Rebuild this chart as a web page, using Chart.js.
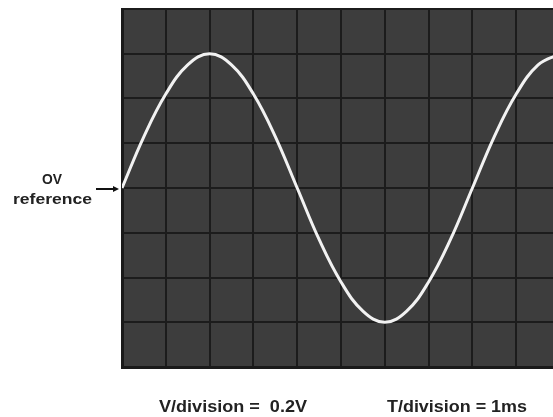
<!DOCTYPE html>
<html>
<head>
<meta charset="utf-8">
<style>
  html, body { margin: 0; padding: 0; background: #ffffff; }
  #wrap { width: 553px; height: 417px; position: relative; }
</style>
</head>
<body>
<div id="wrap"><canvas id="scope"></canvas></div>
<script src="https://cdn.jsdelivr.net/npm/chart.js"></script>
<script>
    // time in ms (1 division = 1 ms), voltage in V (1 division = 0.2 V)
    var timeMs = [0, 0.5, 1, 1.5, 2, 2.5, 3, 3.5, 4, 4.5, 5, 5.5, 6, 6.5, 7, 7.5, 8, 8.5, 9, 9.5, 10];
    var volts = [0.00, 0.23, 0.42, 0.55, 0.60, 0.55, 0.42, 0.23, 0.00, -0.23, -0.42,
                 -0.55, -0.60, -0.55, -0.42, -0.23, 0.00, 0.23, 0.42, 0.55, 0.60];

    var timeRange = [0, 9.84];
    var voltRange = [-0.8, 0.8];
    var zeroLabel = ['OV', 'reference'];
    var voltNote = 'V/division =  0.2V';
    var timeNote = 'T/division = 1ms';

    var points = timeMs.map(function (t, i) { return { x: t, y: volts[i] }; });

    var textColor = '#222222';

    // draw text squeezed/stretched to a given width
    function fitText(ctx, text, x, y, width, font) {
        ctx.save();
        ctx.font = font;
        var w = ctx.measureText(text).width;
        ctx.translate(x, y);
        ctx.scale(width / w, 1);
        ctx.textAlign = 'left';
        ctx.textBaseline = 'alphabetic';
        ctx.fillText(text, 0, 0);
        ctx.restore();
    }

    var screenPlugin = {
        id: 'screen',
        beforeDraw: function (chart) {
            var ctx = chart.ctx;
            var a = chart.chartArea;
            ctx.save();
            ctx.fillStyle = '#3d3d3d';
            ctx.fillRect(a.left, a.top, a.right - a.left, a.bottom - a.top);
            ctx.restore();
        },
        afterDraw: function (chart) {
            var ctx = chart.ctx;
            var a = chart.chartArea;
            var y0 = chart.scales.y.getPixelForValue(0);
            ctx.save();
            ctx.fillStyle = textColor;
            fitText(ctx, zeroLabel[0], 42, y0 - 4, 20, 'bold 14px "Liberation Sans", Arial, sans-serif');
            fitText(ctx, zeroLabel[1], 13, y0 + 16, 79, 'bold 14px "Liberation Sans", Arial, sans-serif');
            // arrow pointing at the 0V line
            ctx.strokeStyle = '#111';
            ctx.lineWidth = 2;
            ctx.beginPath();
            ctx.moveTo(96, y0 + 1);
            ctx.lineTo(a.left - 6, y0 + 1);
            ctx.stroke();
            ctx.fillStyle = '#111';
            ctx.beginPath();
            ctx.moveTo(a.left - 3, y0 + 1);
            ctx.lineTo(a.left - 9, y0 - 2);
            ctx.lineTo(a.left - 9, y0 + 4);
            ctx.closePath();
            ctx.fill();
            ctx.fillStyle = textColor;
            fitText(ctx, voltNote, 159, 412, 148, 'bold 16px "Liberation Sans", Arial, sans-serif');
            fitText(ctx, timeNote, 387, 412, 140, 'bold 16px "Liberation Sans", Arial, sans-serif');
            ctx.restore();
        }
    };

    var ctx = document.getElementById('scope').getContext('2d');
    var scopeChart = new Chart(ctx, {
        type: 'line',
        data: {
            datasets: [{
                label: 'Signal',
                data: points,
                borderColor: '#f2f2f2',
                borderWidth: 3,
                pointRadius: 0,
                tension: 0.4,
                fill: false
            }]
        },
        options: {
            responsive: true,
            maintainAspectRatio: false,
            animation: false,
            layout: {
                padding: { left: 122, top: 9, right: 0, bottom: 50 }
            },
            plugins: {
                legend: { display: false },
                tooltip: { enabled: false }
            },
            scales: {
                x: {
                    type: 'linear',
                    min: timeRange[0],
                    max: timeRange[1],
                    z: 1,
                    ticks: { display: false, stepSize: 1, includeBounds: false },
                    grid: { color: '#1c1c1c', lineWidth: 2, drawTicks: false },
                    border: { display: true, color: '#1a1a1a', width: 3 }
                },
                y: {
                    min: voltRange[0],
                    max: voltRange[1],
                    z: 1,
                    ticks: { display: false, stepSize: 0.2 },
                    grid: { color: '#1c1c1c', lineWidth: 2, drawTicks: false },
                    border: { display: true, color: '#1a1a1a', width: 3 }
                }
            }
        },
        plugins: [screenPlugin]
    });
</script>
</body>
</html>
